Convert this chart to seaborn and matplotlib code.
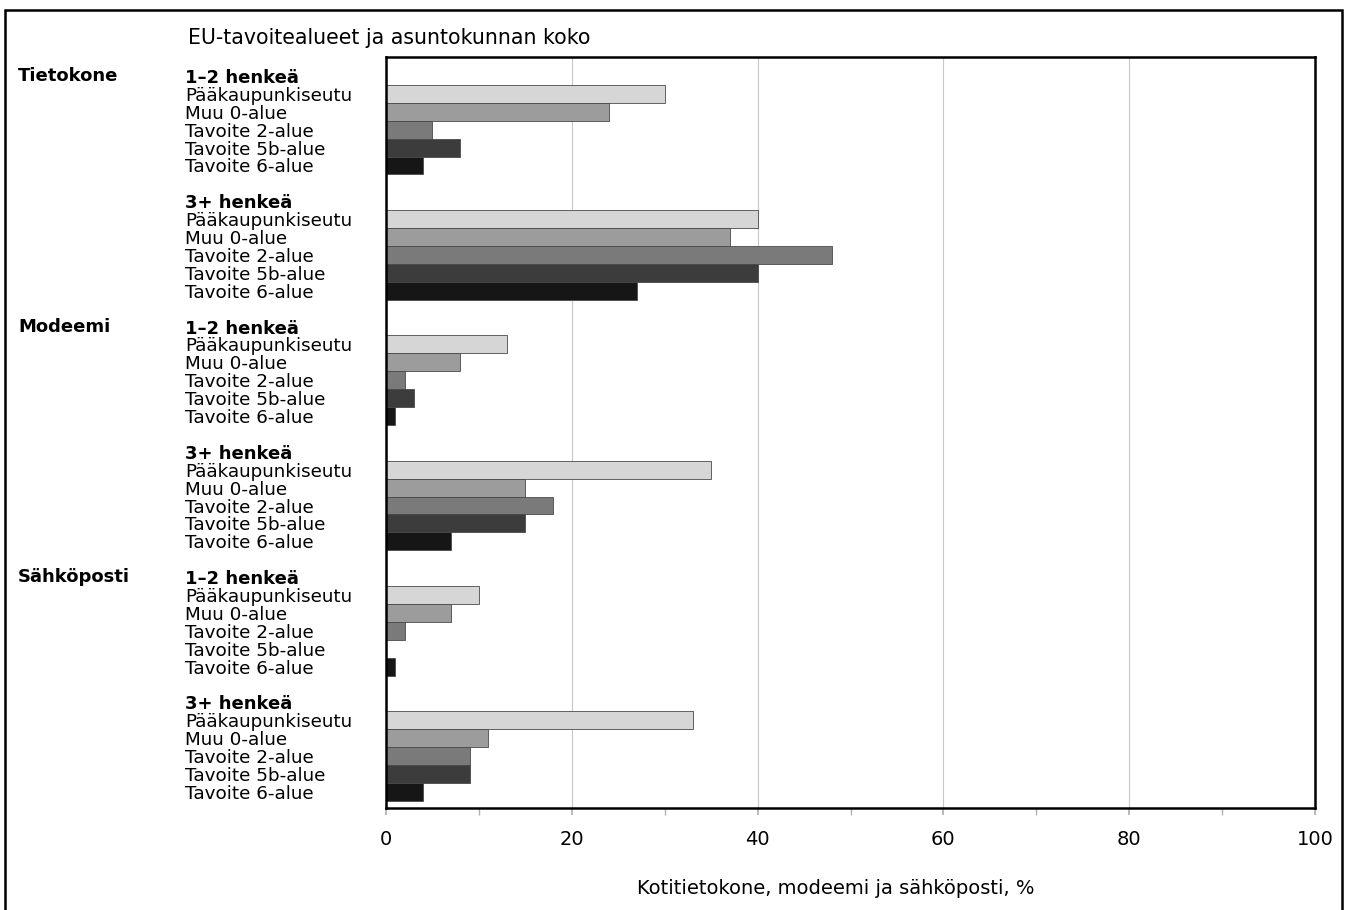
import numpy as np
import pandas as pd
import seaborn as sns
import matplotlib.pyplot as plt
import matplotlib.transforms as mtransforms
from matplotlib.patches import Rectangle

# Data (% of households)
categories = ['Tietokone', 'Modeemi', 'Sähköposti']
sizes = ['1–2 henkeä', '3+ henkeä']
regions = ['Pääkaupunkiseutu', 'Muu 0-alue', 'Tavoite 2-alue', 'Tavoite 5b-alue', 'Tavoite 6-alue']

tietokone_12 = [30, 24, 5, 8, 4]
tietokone_3 = [40, 37, 48, 40, 27]
modeemi_12 = [13, 8, 2, 3, 1]
modeemi_3 = [35, 15, 18, 15, 7]
sahkoposti_12 = [10, 7, 2, 0, 1]
sahkoposti_3 = [33, 11, 9, 9, 4]

values = {
    ('Tietokone', '1–2 henkeä'): tietokone_12,
    ('Tietokone', '3+ henkeä'): tietokone_3,
    ('Modeemi', '1–2 henkeä'): modeemi_12,
    ('Modeemi', '3+ henkeä'): modeemi_3,
    ('Sähköposti', '1–2 henkeä'): sahkoposti_12,
    ('Sähköposti', '3+ henkeä'): sahkoposti_3,
}

colors = ['#d6d6d6', '#9c9c9c', '#7a7a7a', '#3c3c3c', '#161616']

# Build long table: each group = header row + 5 bars + blank row
rows = []
tick_pos, tick_lab, tick_bold = [], [], []
cat_rows = {}
g = 0
for cat in categories:
    for size in sizes:
        head = g * 7
        if size == sizes[0]:
            cat_rows[cat] = head
        tick_pos.append(head)
        tick_lab.append(size)
        tick_bold.append(True)
        for k, reg in enumerate(regions):
            rows.append({'pos': head + 1 + k, 'value': values[(cat, size)][k], 'region': reg})
            tick_pos.append(head + 1 + k)
            tick_lab.append(reg)
            tick_bold.append(False)
        g += 1
df = pd.DataFrame(rows)

sns.set_theme(style='white')
plt.rcParams['font.family'] = ['DejaVu Sans']
plt.rcParams['text.color'] = 'black'
plt.rcParams['axes.labelcolor'] = 'black'
plt.rcParams['xtick.labelcolor'] = 'black'
plt.rcParams['ytick.labelcolor'] = 'black'

W, H = 1349, 910
fig = plt.figure(figsize=(W / 100, H / 100), dpi=100)
ax = fig.add_axes([386 / W, 1 - 808 / H, (1315 - 386) / W, (808 - 57) / H])

sns.barplot(data=df, x='value', y='pos', hue='region', hue_order=regions,
            palette=colors, orient='h', native_scale=True, dodge=False,
            width=1.0, edgecolor='#4a4a4a', linewidth=0.6, legend=False, ax=ax)

ax.set_xlim(0, 100)
ax.set_ylim(40.9, -1.06)
ax.set_xticks(np.arange(0, 101, 20))
ax.set_xticks(np.arange(10, 100, 20), minor=True)
ax.grid(axis='x', which='major', color='#c8c8c8', linewidth=0.8)
ax.set_axisbelow(True)
ax.tick_params(axis='x', which='both', bottom=True, direction='out', length=5,
               color='#b0b0b0', labelsize=14, labelcolor='black', pad=11)

ax.set_yticks(tick_pos)
ax.set_yticklabels(tick_lab)
ax.tick_params(axis='y', length=0, pad=144.5, labelcolor='black')
for lab, bold in zip(ax.get_yticklabels(), tick_bold):
    lab.set_horizontalalignment('left')
    lab.set_fontsize(13 if bold else 13.2)
    if bold:
        lab.set_fontweight('bold')

for side in ['left', 'right', 'top', 'bottom']:
    ax.spines[side].set_visible(True)
    ax.spines[side].set_color('black')
    ax.spines[side].set_linewidth(1.8)

trans = mtransforms.blended_transform_factory(ax.transAxes, ax.transData)
for cat in categories:
    ax.text((18 - 386) / 929, cat_rows[cat], cat, transform=trans, fontsize=13,
            fontweight='bold', ha='left', va='center', color='black')

ax.set_ylabel('')
ax.set_xlabel('Kotitietokone, modeemi ja sähköposti, %', fontsize=14, color='black')
ax.xaxis.label.set_va('center')
ax.xaxis.set_label_coords((836 - 386) / 929, -(888 - 808) / 751)

fig.text(188 / W, 1 - 38 / H, 'EU-tavoitealueet ja asuntokunnan koko', fontsize=14.8,
         ha='left', va='center', color='black')

fig.add_artist(Rectangle((5 / W, -0.02), 1337 / W, 1.02 - 10 / H, fill=False,
                         edgecolor='black', linewidth=1.8, transform=fig.transFigure))

fig.savefig('out.png', dpi=100)
